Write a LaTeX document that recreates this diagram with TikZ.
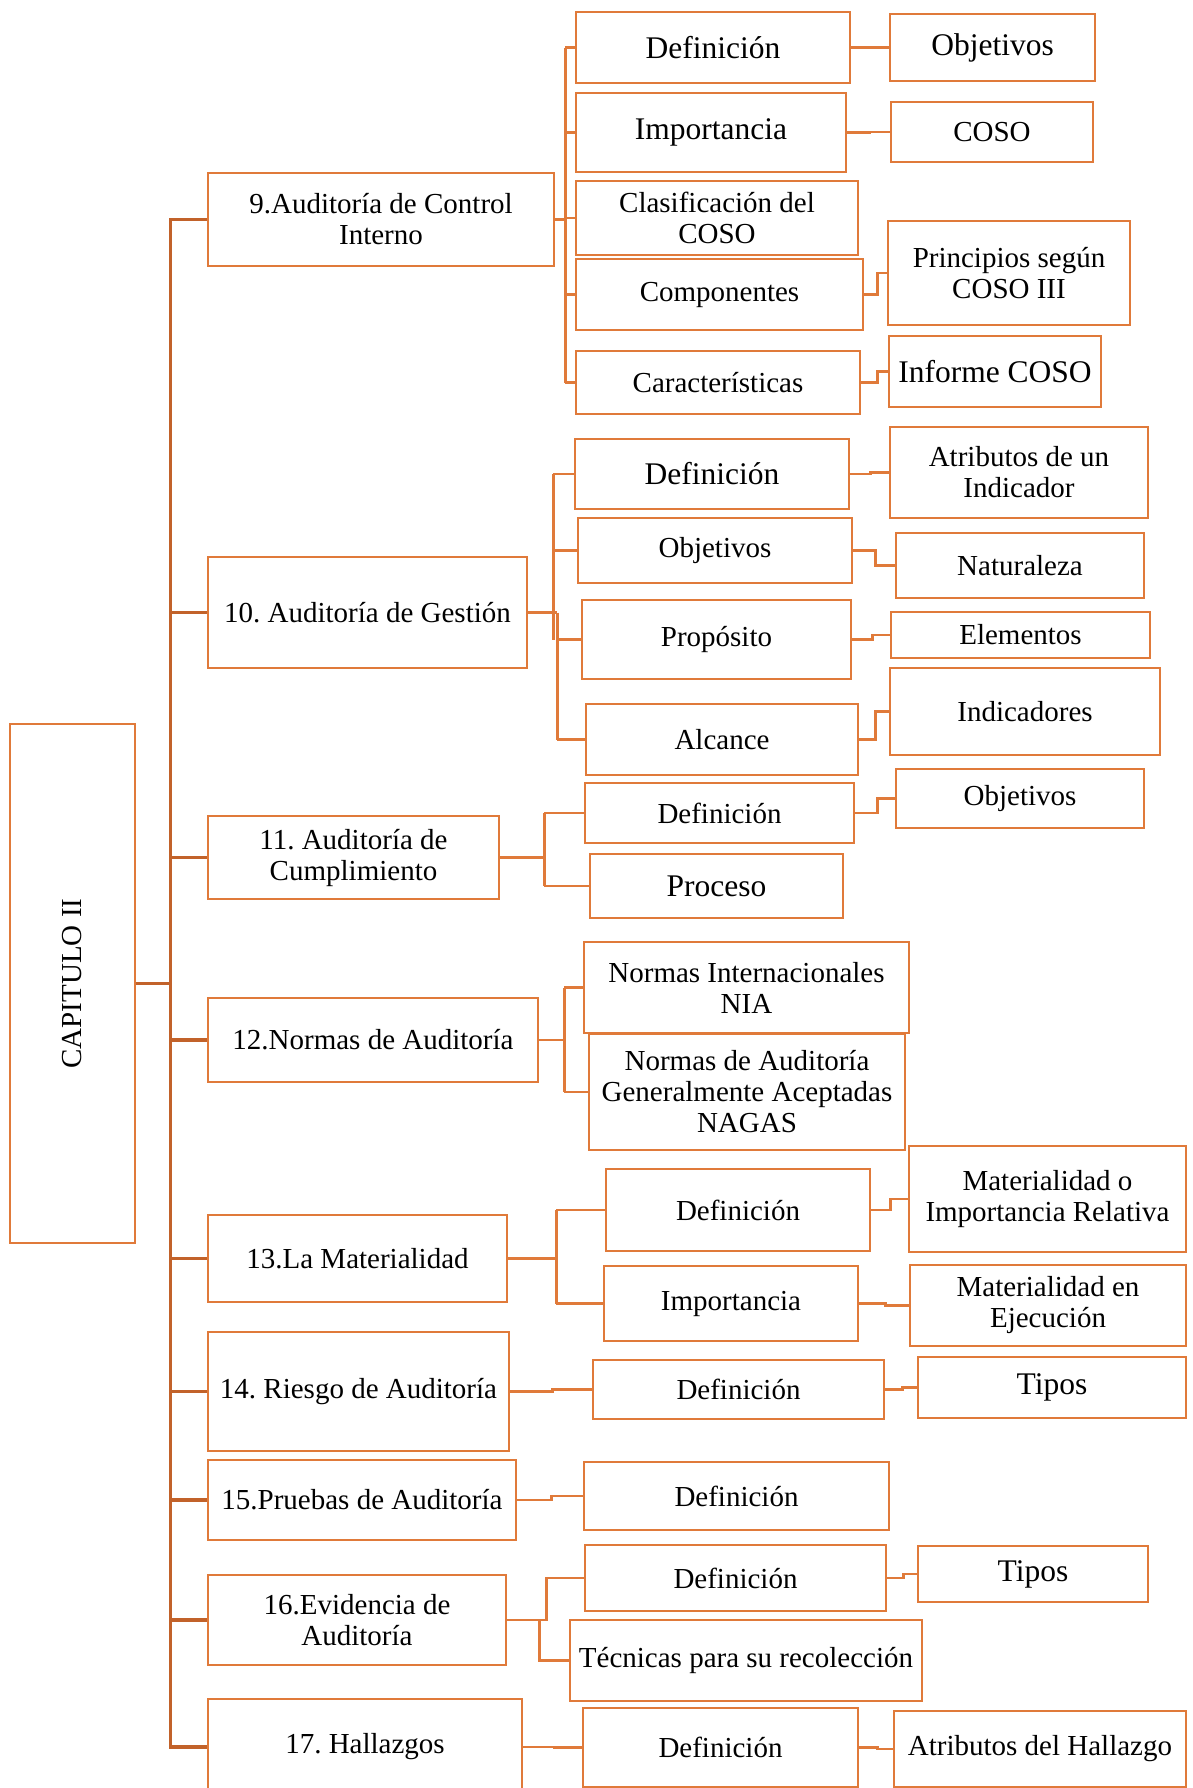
\documentclass[tikz,border=0pt]{standalone}
\usepackage{fontspec}
\setmainfont{Liberation Serif}
\frenchspacing
\definecolor{boxc}{RGB}{224,122,58}
\definecolor{trunkc}{RGB}{194,98,42}
\tikzset{
  box/.style={draw=boxc, line width=2.8pt, inner sep=2pt, align=center, fill=white,
    font=\fontsize{29}{31}\selectfont},
  big/.style={font=\fontsize{31.5}{34}\selectfont},
  conn/.style={draw=boxc, line width=2.6pt},
  trunk/.style={draw=trunkc, line width=3.2pt}
}
\newcommand\bx[7][]{\node[box,#1,minimum width={#5-#3},minimum height={#6-#4}] (#2) at ({(#3+#5)/2},{(#4+#6)/2}) {#7};}
\begin{document}
\begin{tikzpicture}[x=1pt,y=-1pt]
\useasboundingbox (0,0) rectangle (1192,1788);
\clip (0,0) rectangle (1192,1788);
\fill[white] (0,0) rectangle (1192,1788);

% ---- boxes ----
\bx{cap}{10}{724}{135}{1243}{}
\node[rotate=90, font=\fontsize{29}{31}\selectfont] (captext) at (cap.center) {CAPITULO II};

\bx{b9}{208}{173}{554}{266}{9.Auditoría de Control\\Interno}
\bx[big]{d91}{576}{12}{850}{83}{Definición}
\bx[big]{d92}{576}{93}{846}{172}{Importancia}
\bx{d93}{576}{181}{858}{255}{Clasificación del\\COSO}
\bx{d94}{576}{259}{863}{330}{Componentes}
\bx{d95}{576}{351}{860}{414}{Características}
\bx[big]{o91}{890}{14}{1095}{81}{Objetivos}
\bx{o92}{891}{102}{1093}{162}{COSO}
\bx{o94}{888}{221}{1130}{325}{Principios según\\COSO III}
\bx[big]{o95}{889}{336}{1101}{407}{Informe COSO}

\bx{b10}{208}{557}{527}{668}{10. Auditoría de Gestión}
\bx[big]{d101}{575}{439}{849}{509}{Definición}
\bx{d102}{578}{518}{852}{583}{Objetivos}
\bx{d103}{582}{600}{851}{679}{Propósito}
\bx{d104}{586}{704}{858}{775}{Alcance}
\bx{o101}{890}{427}{1148}{518}{Atributos de un\\Indicador}
\bx{o102}{896}{533}{1144}{598}{Naturaleza}
\bx{o103}{891}{612}{1150}{658}{Elementos}
\bx{o104}{890}{668}{1160}{755}{Indicadores}

\bx{b11}{208}{816}{499}{899}{11. Auditoría de\\Cumplimiento}
\bx{d111}{585}{783}{854}{843}{Definición}
\bx[big]{d112}{590}{854}{843}{918}{Proceso}
\bx{o111}{896}{769}{1144}{828}{Objetivos}

\bx{b12}{208}{998}{538}{1082}{12.Normas de Auditoría}
\bx{d121}{584}{942}{909}{1033}{Normas Internacionales\\NIA}
\bx{d122}{589}{1034}{905}{1150}{Normas de Auditoría\\Generalmente Aceptadas\\NAGAS}

\bx{b13}{208}{1215}{507}{1302}{13.La Materialidad}
\bx{d131}{606}{1169}{870}{1251}{Definición}
\bx{d132}{604}{1266}{858}{1341}{Importancia}
\bx{o131}{909}{1146}{1186}{1252}{Materialidad o\\Importancia Relativa}
\bx{o132}{910}{1265}{1186}{1346}{Materialidad en\\Ejecución}

\bx{b14}{208}{1332}{509}{1451}{14. Riesgo de Auditoría}
\bx{d141}{593}{1360}{884}{1419}{Definición}
\bx[big]{o141}{918}{1357}{1186}{1418}{Tipos}

\bx{b15}{208}{1460}{516}{1540}{15.Pruebas de Auditoría}
\bx{d151}{584}{1462}{889}{1530}{Definición}

\bx{b16}{208}{1575}{506}{1665}{16.Evidencia de\\Auditoría}
\bx{d161}{585}{1545}{886}{1611}{Definición}
\bx{d162}{570}{1620}{922}{1701}{Técnicas para su recolección}
\bx[big]{o161}{918}{1546}{1148}{1602}{Tipos}

\bx{b17}{208}{1699}{522}{1795}{17. Hallazgos}
\bx{d171}{583}{1708}{858}{1787}{Definición}
\bx{o171}{894}{1711}{1186}{1787}{Atributos del Hallazgo}

% ---- trunk ----
\draw[trunk] (b9.west) -- ++(-36,0) coordinate (ttop) |- (b17.west);
\draw[trunk] (cap.east) -- (cap.east -| ttop);
\foreach \s in {b10,b11,b12,b13,b14,b15,b16}
  \draw[trunk] (ttop |- \s.west) -- (\s.west);

% ---- section 9 bracket ----
\path (b9.east) ++(10,0) coordinate (k9);
\draw[conn] (b9.east) -- (k9);
\draw[conn] (k9 |- d91.west) -- (k9 |- d95.west);
\foreach \c in {d91,d92,d93,d94,d95}
  \draw[conn] (k9 |- \c.west) -- (\c.west);

% ---- section 10 bracket ----
\path (b10.east) ++(25,0) coordinate (k10a) ++(4,0) coordinate (k10b);
\draw[conn] (b10.east) -- (k10b);
\draw[conn] (k10a |- d101.west) -- (k10a |- d103.west);
\draw[conn] (k10b) -- (k10b |- d104.west);
\draw[conn] (k10a |- d101.west) -- (d101.west);
\draw[conn] (k10a |- d102.west) -- (d102.west);
\draw[conn] (k10b |- d103.west) -- (d103.west);
\draw[conn] (k10b |- d104.west) -- (d104.west);

% ---- section 11 ----
\path (b11.east) ++(44,0) coordinate (k11);
\draw[conn] (b11.east) -- (k11);
\draw[conn] (k11 |- d111.west) -- (k11 |- d112.west);
\draw[conn] (k11 |- d111.west) -- (d111.west);
\draw[conn] (k11 |- d112.west) -- (d112.west);

% ---- section 12 ----
\path (b12.east) ++(25,0) coordinate (k12);
\draw[conn] (b12.east) -- (k12);
\draw[conn] (k12 |- d121.west) -- (k12 |- d122.west);
\draw[conn] (k12 |- d121.west) -- (d121.west);
\draw[conn] (k12 |- d122.west) -- (d122.west);

% ---- section 13 ----
\path (b13.east) ++(48,0) coordinate (k13);
\draw[conn] (b13.east) -- (k13);
\draw[conn] (k13 |- d131.west) -- (k13 |- d132.west);
\draw[conn] (k13 |- d131.west) -- (d131.west);
\draw[conn] (k13 |- d132.west) -- (d132.west);

% ---- sections 14-17 ----
\draw[conn] (b14.east) -- ++(42,0) |- (d141.west);
\draw[conn] (b15.east) -- ++(34,0) |- (d151.west);
\draw[conn] (b16.east) -- ++(39,0) |- (d161.west);
\draw[conn] (b16.east) ++(32,0) |- (d162.west);
\draw[conn] (b17.east) -- ++(31,0) |- (d171.west);

% ---- third level ----
\draw[conn] (d91.east) -- ++(20,0) |- (o91.west);
\draw[conn] (d92.east) -- ++(22,0) |- (o92.west);
\draw[conn] (d94.east) -- ++(13,0) |- (o94.west);
\draw[conn] (d95.east) -- ++(16,0) |- (o95.west);
\draw[conn] (d101.east) -- ++(20,0) |- (o101.west);
\draw[conn] (d102.east) -- ++(22,0) |- (o102.west);
\draw[conn] (d103.east) -- ++(20,0) |- (o103.west);
\draw[conn] (d104.east) -- ++(16,0) |- (o104.west);
\draw[conn] (d111.east) -- ++(22,0) |- (o111.west);
\draw[conn] (d131.east) -- ++(19,0) |- (o131.west);
\draw[conn] (d132.east) -- ++(26,0) |- (o132.west);
\draw[conn] (d141.east) -- ++(17,0) |- (o141.west);
\draw[conn] (d161.east) -- ++(16,0) |- (o161.west);
\draw[conn] (d171.east) -- ++(18,0) |- (o171.west);
\end{tikzpicture}
\end{document}
